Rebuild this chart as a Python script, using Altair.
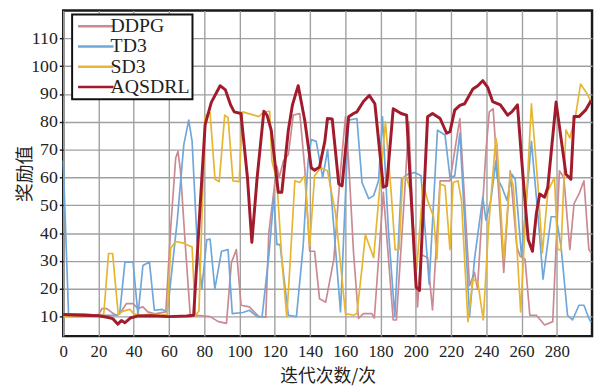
import altair as alt
import pandas as pd

series_names = ["DDPG", "TD3", "SD3", "AQSDRL"]
series_colors = ["#c98a93", "#6fa7da", "#e6b631", "#a11b2c"]

x_ticks = [0, 20, 40, 60, 80, 100, 120, 140, 160, 180, 200, 220, 240, 260, 280]
y_ticks = [10, 20, 30, 40, 50, 60, 70, 80, 90, 100, 110]

ddpg_x = [0, 10, 20, 21.9, 24.7, 27.5, 30, 32, 35.9, 39.6, 42.4, 45.2, 48, 52, 58.2, 61, 63.8, 65.1, 66.5, 69.3,
          72.1, 75.9, 83.3, 88, 92.6, 95.4, 98.2, 100.9, 105.6, 111, 114.9, 116.6, 121.2, 122.5, 124.9, 127.7,
          130.5, 134.2, 137, 139.8, 142.6, 145.4, 148.9, 153.5, 157.3, 160.1, 161.9, 164.7, 167.5, 170.3, 175.1,
          176.5, 181.6, 187.2, 189, 193.7, 196, 198, 201, 203, 206.7, 209.5, 213.8, 219.4, 225, 230.5, 233.3, 235,
          239.8, 241.7, 243.9, 247.1, 249.9, 253.6, 257.3, 259.2, 262, 264.7, 268.4, 273.1, 277.7, 281.5, 284,
          287.4, 289.8, 292.6, 295.4, 298.2, 299.5]
ddpg_y = [11, 11, 10.5, 12.9, 12.9, 11.5, 10.5, 11, 14.7, 14.7, 12.9, 13.5, 11.7, 11, 11.7, 42.3, 67, 69.4, 62.4, 35.3,
          10, 10.5, 10, 8.2, 7.6, 29.4, 34.1, 14.1, 13.5, 10, 9.8, 40, 64.1, 60, 65.9, 68.3,
          82.4, 83, 63.5, 33.5, 33.5, 16.4, 15.2, 30.6, 62.4, 81.8, 65.9, 32.9, 9.4, 11.1, 11.1,
          9.5, 54.7, 8.8, 8.8, 54.7, 80, 50, 13.5, 32.3, 31.2, 12.4, 58.8, 58.8, 81.2, 21.1, 25.9, 20,
          69.4, 83.6, 84.7, 54.1, 25.9, 62.4, 35.3, 31.7, 30.6, 10.5, 10.5, 7, 8.2, 62.4, 60,
          34.1, 50.6, 54.1, 58.8, 34.1, 33]

td3_x = [0, 3, 10, 20, 30, 32, 35, 39.6, 42.4, 45.2, 48.9, 51.7, 56.3, 59.1, 64.7, 68.4, 71.2, 73.1, 75.9, 78.6,
         81.4, 83.3, 86, 89.8, 93.5, 95.9, 101.9, 105.6, 110, 112.8, 116.7, 119.5, 121.2, 123, 127.7, 132.3,
         136.1, 138.9, 140.7, 143.5, 147.2, 150, 157.3, 161.9, 166.6, 169.5, 173.3, 176.1, 178.9, 181.1, 184.4,
         188.1, 191.9, 195.6, 199.3, 203, 207.6, 212.3, 216.6, 219.4, 222.1, 225, 227.7, 230.5, 233.3, 238,
         239.8, 242.6, 245.4, 246.1, 248.9, 251.7, 254.5, 256.4, 260, 265.6, 269.4, 272.2, 276.8, 279.6, 282.4,
         286.1, 288.9, 292.6, 295.4, 298.2, 299.5]
td3_y = [66, 11, 11, 10.5, 10.5, 11, 29.6, 29.6, 10.5, 28.4, 29.6, 12.3, 12.6, 11.7, 44.7, 71.8, 80.6, 73, 37.6, 20,
         37.6, 37.9, 20, 33.5, 34.1, 11.1, 11.5, 12.3, 10, 10, 32.3, 53, 35.9, 36, 10.5, 10,
         35.3, 65.9, 73.6, 73, 60, 70, 11.7, 80.6, 81.2, 58.2, 52.4, 53.5, 58.8, 81.8, 41.8,
         10, 59.4, 61.2, 61.8, 60.6, 21.7, 77, 75.3, 60, 60.6, 75.9, 44.7, 10, 30.6, 52.9,
         44.7, 51.8, 65.9, 60, 56.5, 51.8, 61.2, 59.4, 31.7, 73, 45.9, 23.5, 45.9, 45.9, 35.3,
         10.5, 8.8, 14.1, 14.1, 9.4, 8]

sd3_x = [0, 10, 20, 23, 25.7, 28, 31.2, 34, 37.8, 40, 45, 50, 55, 59, 61, 63.8, 68.4, 73.1, 74.9, 77, 80.5, 83.3,
         86.1, 88.5, 91.6, 93.5, 96.3, 99.8, 101.7, 108.2, 111, 113.8, 117.1, 118.4, 121.2, 124, 126.8, 128.6,
         131.4, 134.2, 137, 139.8, 142.6, 146.1, 149.9, 154.5, 160.1, 164.7, 166.6, 169.5, 171.4, 176.1, 182.8,
         186.1, 188.3, 190.5, 192.6, 194.8, 197, 200.5, 204.2, 207.3, 210.1, 212, 213.8, 216.6, 219.4, 221.2,
         224, 225.9, 229.6, 232.4, 235.2, 238.3, 241.3, 245.4, 246.1, 249.9, 253.6, 255.4, 259.5, 265.6, 269.4,
         271.8, 275, 278.7, 280.5, 282.4, 285.2, 287.4, 290.7, 293.5, 297.3, 299.5]
sd3_y = [10, 10, 10.2, 11, 32.7, 32.7, 10.8, 12, 12.6, 11, 10.5, 11, 10.5, 10.8, 34.7, 37, 36.4, 35, 10.5, 12, 82, 83.3,
         59.4, 58.5, 82.4, 81.5, 58.8, 58.5, 83.6, 82.4, 81.9, 83.6, 83.8, 65.9, 58.8, 30.6, 10, 28.2,
         58.8, 58.2, 60.6, 35.3, 60.6, 63.5, 62.4, 47, 11.1, 10.5, 11.1, 27.6, 39.4, 31.2, 80,
         54.1, 34.1, 34.1, 60, 60, 55, 27, 57.5, 50.6, 45.9, 30.6, 57.7, 57, 34.1, 58.2,
         58.8, 51.8, 8.2, 23.5, 22.3, 8.8, 42.3, 74.2, 71.8, 30.6, 61.2, 56.5, 11.7, 86.5, 56.5,
         32.9, 55.3, 60, 34.1, 34.1, 77.1, 74.2, 82.4, 93.6, 90, 87]

aqsdrl_x = [0, 10, 20, 25, 28, 31, 33, 35, 38, 42, 50, 60, 70, 74, 77.5, 80.5, 84, 89, 92, 95, 97, 100.8, 104.5,
            107, 110, 113.8, 115.6, 118, 122, 124, 127.7, 130, 133.3, 137, 140.7, 142.6, 145.4, 148.4, 149.9,
            152.6, 156.3, 158.2, 161.9, 164.7, 166.6, 170.3, 173.6, 176.8, 181.6, 183.5, 187.2, 191.7, 194.8,
            200.2, 202.1, 206.7, 209.5, 213.8, 217.5, 219.4, 222.1, 225, 227.7, 232.4, 235.2, 238, 240.8, 243.6,
            248, 252.1, 254.5, 257.7, 260, 263.8, 266.2, 268.4, 270.3, 273.1, 274.9, 279.6, 285.2, 288, 289.8,
            292.6, 296.3, 299.5]
aqsdrl_y = [10.8, 10.5, 10.3, 9.8, 9.3, 7.3, 8.6, 7.8, 9.5, 10.2, 10.3, 10, 10.2, 10.5, 48, 79, 87, 93, 91.5, 86, 83.6,
            83, 60, 36.7, 60, 83.8, 82.4, 77, 54.7, 54.7, 77, 86, 93, 80.6, 63.5, 62.6, 63.8, 73, 81.2,
            81, 57.7, 57, 81.8, 83, 83.6, 87.3, 89.5, 86.5, 56.5, 57.1, 84.7, 83, 82.4,
            20.6, 19.4, 81.8, 83, 81.2, 75.9, 76.5, 84.2, 85.9, 86.5, 91.8, 93, 94.8, 92.4, 87.3,
            86.1, 82.4, 83.6, 86.1, 67, 37.6, 33.5, 47, 54.1, 52.9, 56.5, 87.1, 61.2, 59.4, 81.9,
            81.9, 84.2, 87.7]

rows = []
for name, xs, ys in [("DDPG", ddpg_x, ddpg_y), ("TD3", td3_x, td3_y),
                     ("SD3", sd3_x, sd3_y), ("AQSDRL", aqsdrl_x, aqsdrl_y)]:
    for i, (xv, yv) in enumerate(zip(xs, ys)):
        rows.append({"series": name, "x": xv, "y": yv, "i": i})
df = pd.DataFrame(rows)

label_font = "Liberation Serif"
cjk_font = "Noto Sans CJK SC"

color_scale = alt.Scale(domain=series_names, range=series_colors)

x_enc = alt.X("x:Q", scale=alt.Scale(domain=[0, 300], nice=False, zero=False),
              axis=alt.Axis(values=x_ticks, title="迭代次数/次", grid=True, ticks=False, tickSize=0,
                            domain=False, labelPadding=8, labelFlush=False, labelFont=label_font,
                            labelFontSize=17, labelColor="#222", titleFont=cjk_font, titleFontSize=18,
                            titleFontWeight="normal", titleColor="#222", titlePadding=8,
                            gridColor="#a0a0a0", gridWidth=1.4, labelOverlap=False))
y_enc = alt.Y("y:Q", scale=alt.Scale(domain=[3, 120], nice=False, zero=False),
              axis=alt.Axis(values=y_ticks, title="奖励值", grid=True, tickSize=4, tickColor="#222",
                            tickWidth=1.5, domain=False, labelPadding=2, labelFont=label_font,
                            labelFontSize=18, labelColor="#222", titleFont=cjk_font, titleFontSize=19,
                            titleFontWeight="normal", titleColor="#222",
                            titleX=-29, titleBaseline="bottom", titleAngle=270,
                            gridColor="#a0a0a0", gridWidth=1.4))

legend = alt.Legend(title=None, orient="none", legendX=9, legendY=4, direction="vertical",
                    symbolType="M-3,0L3,0", symbolSize=144, symbolOffset=12, symbolStrokeWidth=2.5,
                    labelFont=label_font, labelFontSize=20, labelColor="#222", labelOffset=5,
                    padding=2, rowPadding=0.5, strokeColor="#111", fillColor="white",
                    values=series_names)

base = alt.Chart(df)

thin = base.transform_filter(alt.FieldOneOfPredicate(field="series", oneOf=["DDPG", "TD3", "SD3"])).mark_line(
    strokeWidth=1.7, strokeJoin="round").encode(
    x=x_enc, y=y_enc,
    color=alt.Color("series:N", scale=color_scale, legend=legend),
    order="i:Q",
)

thick = base.transform_filter(alt.FieldEqualPredicate(field="series", equal="AQSDRL")).mark_line(
    strokeWidth=3, strokeJoin="round").encode(
    x=x_enc, y=y_enc,
    color=alt.Color("series:N", scale=color_scale, legend=legend),
    order="i:Q",
)

chart = alt.layer(thin, thick).properties(
    width=536, height=330,
    autosize=alt.AutoSizeParams(type="none"),
    padding={"left": 56, "top": 0, "right": 3, "bottom": 50},
).configure_view(stroke="#1a1a1a", strokeWidth=2.5).configure_legend(strokeWidth=2)

chart.save("out.html", embed_options={"renderer": "svg", "actions": False})
